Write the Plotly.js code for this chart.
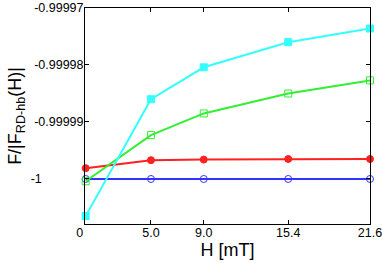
<!DOCTYPE html>
<html><head><meta charset="utf-8">
<script src="https://cdn.plot.ly/plotly-3.0.1.min.js"></script>
<style>html,body{margin:0;padding:0;background:#fff}#c{width:382px;height:263px}</style>
</head><body><div id="c"></div>
<script>
const H = [0.05, 5.0, 9.0, 15.4, 21.6];
const xTickVals = [0, 5.0, 9.0, 15.4, 21.6];
const xTickText = ['0\u00a0\u00a0\u00a0', '5.0', '9.0', '15.4', '21.6'];
const yTickVals = [-0.99997, -0.99998, -0.99999, -1];
const yTickText = ['-0.99997', '-0.99998', '-0.99999', '-1' + '\u00a0'.repeat(12)];
const cyanVals = [-1.0000065, -0.9999860, -0.9999804, -0.9999760, -0.9999736];
const greenVals = [-1.0000004, -0.9999923, -0.9999885, -0.9999850, -0.9999827];
const redVals = [-0.9999981, -0.9999967, -0.9999966, -0.99999649, -0.9999965];
const blueVals = [-1, -1, -1, -1, -1];

const mk = (y, color, symbol, size) => ({
  x: H, y: y, mode: 'lines+markers', type: 'scatter',
  line: {color: color, width: 2},
  marker: {color: color, symbol: symbol, size: size, line: {color: color, width: 1}},
  cliponaxis: false
});
const data = [
  mk(blueVals, '#3333ff', 'circle-open', 7),
  mk(redVals, '#ff2020', 'circle', 7),
  mk(greenVals, '#33ee33', 'square-open', 7),
  mk(cyanVals, '#33ffff', 'square', 7)
];
const layout = {
  width: 382, height: 263,
  margin: {l: 85, r: 12, t: 8, b: 39},
  showlegend: false,
  paper_bgcolor: '#fff', plot_bgcolor: '#fff',
  font: {family: 'Liberation Sans, Arial, sans-serif', color: '#000', size: 12.5},
  xaxis: {
    range: [0, 21.6], tickvals: xTickVals, ticktext: xTickText,
    ticks: 'inside', ticklen: 4, tickcolor: '#000',
    showline: true, linecolor: '#000', linewidth: 1, mirror: 'ticks',
    showgrid: false, zeroline: false, ticklabelstandoff: -3,
    ticklabeloverflow: 'allow',
    title: {text: 'H [mT]', font: {size: 18}, standoff: 2}
  },
  yaxis: {
    range: [-1.0000079, -0.99997], tickvals: yTickVals, ticktext: yTickText,
    ticks: 'inside', ticklen: 4, tickcolor: '#000',
    showline: true, linecolor: '#000', linewidth: 1, mirror: 'ticks',
    showgrid: false, zeroline: false, ticklabelstandoff: -2,
    ticklabeloverflow: 'allow',
    title: {text: 'F/|F<sub>RD-hb</sub>(H)|', font: {size: 18}, standoff: 4}
  }
};
Plotly.newPlot('c', data, layout, {displayModeBar: false, staticPlot: true});
</script></body></html>
